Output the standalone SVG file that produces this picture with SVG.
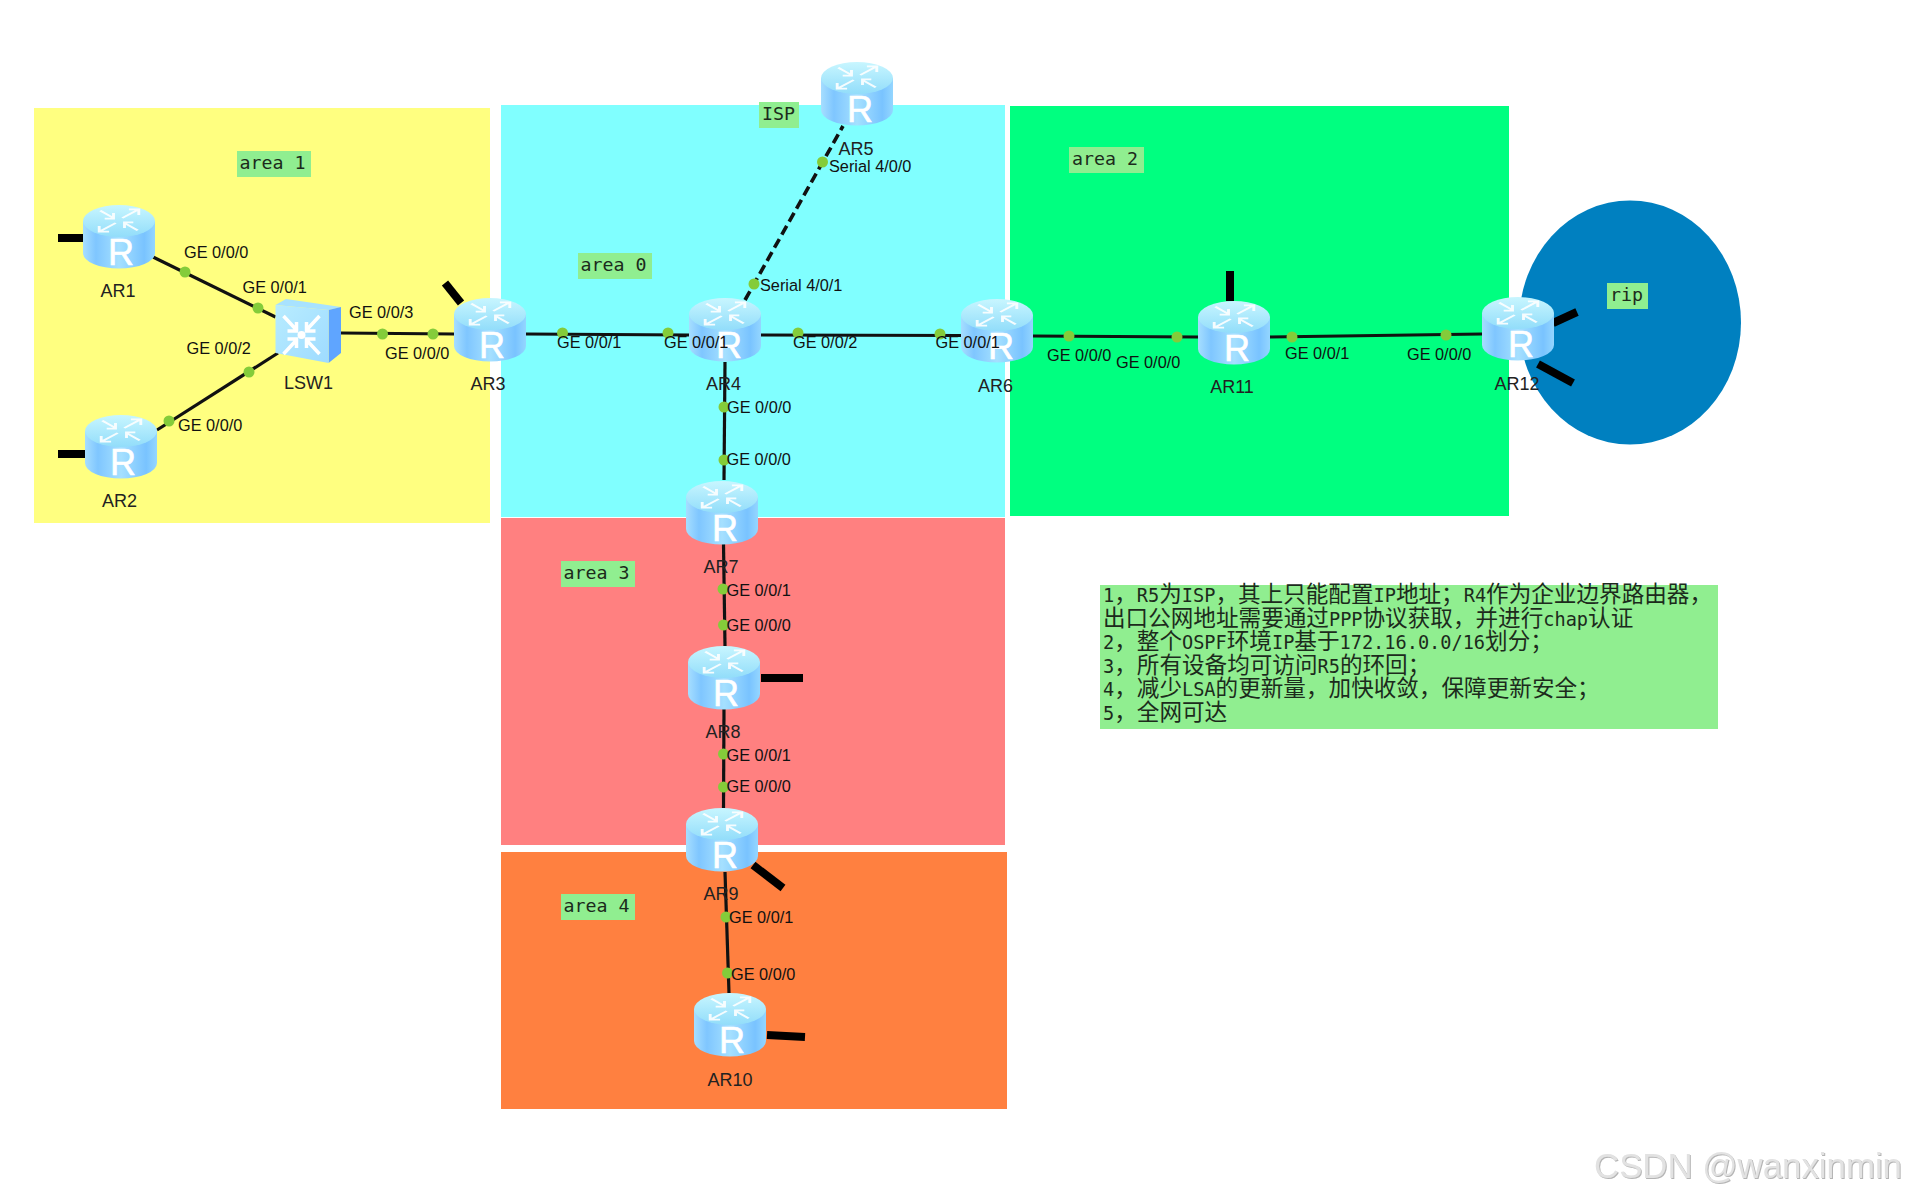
<svg xmlns="http://www.w3.org/2000/svg" xmlns:xlink="http://www.w3.org/1999/xlink" width="1906" height="1198" viewBox="0 0 1906 1198">
<style>
.pl{font:16.3px "Liberation Sans",Arial,sans-serif;fill:#111}
.nl{font:18px "Liberation Sans",Arial,sans-serif;fill:#222;text-anchor:middle}
.r{font:36px "Liberation Sans",Arial,sans-serif;fill:#fff;text-anchor:middle;stroke:#fff;stroke-width:.6}
.tb{fill:#90EE90}
.tt{font:18.3px "DejaVu Sans Mono",monospace;fill:#1c2b1c}
.note{font:22.6px "Noto Sans CJK SC","Noto Sans CJK TC",sans-serif;fill:#1c2b1c}
.m{font:18.6px "DejaVu Sans Mono",monospace}
.ln{stroke:#111;stroke-width:3.2;fill:none}
.ds{stroke:#111;stroke-width:3.6;stroke-dasharray:10 5;fill:none}
.st{stroke:#000;stroke-width:8;fill:none}
.port{fill:#84CC3A}
.ar{stroke:#fff;stroke-width:2.6;fill:none;opacity:.9}
.as{stroke:#fff;stroke-width:3.5;fill:none}
</style>
<defs>
<linearGradient id="rb" x1="0" x2="1" y1="0" y2="0"><stop offset="0" stop-color="#A6DEFF"/><stop offset=".18" stop-color="#7FC6FF"/><stop offset=".5" stop-color="#A5E0FF"/><stop offset=".85" stop-color="#79C3FF"/><stop offset="1" stop-color="#94D6FF"/></linearGradient>
<linearGradient id="rt" x1="0" x2="0" y1="0" y2="1"><stop offset="0" stop-color="#C8F6FF"/><stop offset="1" stop-color="#92DDFA"/></linearGradient>
<linearGradient id="sf" x1="0" x2="1" y1="0" y2="1"><stop offset="0" stop-color="#B8ECFF"/><stop offset="1" stop-color="#9EDBFF"/></linearGradient>
<g id="rarrows" class="ar"><g transform="translate(36,15.500) scale(1.1,.62)">
<path d="M3,-4L17,-17M9,-18H18V-9"/>
<path d="M-3,4L-17,17M-9,18H-18V9"/>
<path d="M-17,-16L-5,-4M-5,-12V-3H-13"/>
<path d="M17,16L5,4M5,12V3H13"/>
</g></g>
<g id="router">
<path d="M0,16V48A36,15.500 0 0 0 72,48V16Z" fill="url(#rb)"/>
<ellipse cx="36" cy="16" rx="36" ry="16" fill="url(#rt)"/>
<use href="#rarrows"/>
</g>
<filter id="wm" x="-5%" y="-20%" width="110%" height="140%"><feDropShadow dx="1" dy="1" stdDeviation=".6" flood-color="#b4b4b4"/></filter>
</defs>

<g id="areas">
<rect x="34" y="108" width="456" height="415" fill="#FFFF80"/>
<rect x="501" y="105" width="504" height="412" fill="#80FFFF"/>
<rect x="1010" y="106" width="499" height="410" fill="#00FF80"/>
<rect x="501" y="518" width="504" height="327" fill="#FF8080"/>
<rect x="501" y="852" width="506" height="257" fill="#FF8040"/>
<ellipse cx="1630" cy="322.500" rx="111" ry="122" fill="#0080C0"/>
</g>

<g id="connectors">
<path class="ln" d="M153,257L275.500,317"/>
<path class="ln" d="M157,430L278,353"/>
<path class="ln" d="M341,333L454,334"/>
<path class="ln" d="M526,334L689,335"/>
<path class="ln" d="M761,335L961,335.500"/>
<path class="ln" d="M1033,336L1198,337"/>
<path class="ln" d="M1270,337L1482,334"/>
<path class="ds" d="M745,300L843,126"/>
<path class="ln" d="M725,362L724,480"/>
<path class="ln" d="M723.500,544L725,646"/>
<path class="ln" d="M724,709L723.500,808"/>
<path class="ln" d="M725,872L729,993"/>
<path class="st" d="M58,238H83"/>
<path class="st" d="M58,454H85"/>
<path class="st" d="M445,283L461,303"/>
<path class="st" d="M1230,271V301"/>
<path class="st" d="M1553,323L1577,312"/>
<path class="st" d="M1538,364L1573,383"/>
<path class="st" d="M761,678H803"/>
<path class="st" d="M753,865L783,888"/>
<path class="st" d="M767,1035L805,1037"/>
<g class="ports">
<ellipse class="port" cx="185" cy="272" rx="5.500" ry="5.500"/>
<ellipse class="port" cx="258" cy="308" rx="5.500" ry="5.500"/>
<ellipse class="port" cx="169" cy="421" rx="5.500" ry="5.500"/>
<ellipse class="port" cx="249" cy="372" rx="5.500" ry="5.500"/>
<ellipse class="port" cx="382.500" cy="334" rx="5.500" ry="5.500"/>
<ellipse class="port" cx="433" cy="334" rx="5.500" ry="5.500"/>
<ellipse class="port" cx="562.500" cy="333" rx="5.500" ry="5.500"/>
<ellipse class="port" cx="668" cy="333" rx="5.500" ry="5.500"/>
<ellipse class="port" cx="798" cy="333" rx="5.500" ry="5.500"/>
<ellipse class="port" cx="940" cy="334" rx="5.500" ry="5.500"/>
<ellipse class="port" cx="1069" cy="336" rx="5.500" ry="5.500"/>
<ellipse class="port" cx="1177" cy="337" rx="5.500" ry="5.500"/>
<ellipse class="port" cx="1292" cy="337" rx="5.500" ry="5.500"/>
<ellipse class="port" cx="1446" cy="335" rx="5.500" ry="5.500"/>
<ellipse class="port" cx="822.500" cy="162" rx="5.500" ry="5.500"/>
<ellipse class="port" cx="754" cy="284" rx="5.500" ry="5.500"/>
<ellipse class="port" cx="724" cy="407" rx="5.500" ry="5.500"/>
<ellipse class="port" cx="724" cy="460" rx="5.500" ry="5.500"/>
<ellipse class="port" cx="723" cy="589" rx="5.500" ry="5.500"/>
<ellipse class="port" cx="723.500" cy="625" rx="5.500" ry="5.500"/>
<ellipse class="port" cx="723.500" cy="754" rx="5.500" ry="5.500"/>
<ellipse class="port" cx="723.500" cy="787" rx="5.500" ry="5.500"/>
<ellipse class="port" cx="726" cy="917" rx="5.500" ry="5.500"/>
<ellipse class="port" cx="727.500" cy="973" rx="5.500" ry="5.500"/>
</g>
</g>

<g id="AR1"><use href="#router" x="83" y="205"/><text class="r" x="121" y="265">R</text><text class="nl" x="118" y="297">AR1</text></g>
<g id="AR2"><use href="#router" x="85" y="415"/><text class="r" x="123" y="475">R</text><text class="nl" x="119.500" y="507">AR2</text></g>
<g id="LSW1">
<path d="M275.500,305L286,299L341,307L328.600,310Z" fill="#A8E2FF"/>
<path d="M328.600,310L341,307V353L328.600,363Z" fill="#5FA5FF"/>
<path d="M275.500,305L328.600,310V363L275.500,353Z" fill="url(#sf)"/>
<g class="as" transform="translate(301.500,335)">
<path d="M-5,-5L-18,-19M-18,-11V-20H-9" transform="rotate(180 -11.500 -12)"/>
<path d="M5,-5L18,-19M18,-11V-20H9" transform="rotate(180 11.500 -12)"/>
<path d="M-5,5L-18,19M-18,11V20H-9" transform="rotate(180 -11.500 12)"/>
<path d="M5,5L18,19M18,11V20H9" transform="rotate(180 11.500 12)"/>
<circle r="4" fill="#fff" stroke="none"/>
</g>
<text class="nl" x="308.500" y="389">LSW1</text></g>
<g id="AR3"><use href="#router" x="454" y="298"/><text class="r" x="492" y="358">R</text><text class="nl" x="488" y="390">AR3</text></g>
<g id="AR4"><use href="#router" x="689" y="298"/><text class="r" x="729" y="358">R</text><text class="nl" x="723.500" y="390">AR4</text></g>
<g id="AR5"><use href="#router" x="821" y="62"/><text class="r" x="860" y="122">R</text><text class="nl" x="856" y="155">AR5</text></g>
<g id="AR6"><use href="#router" x="961" y="299"/><text class="r" x="1001" y="359">R</text><text class="nl" x="995.500" y="392">AR6</text></g>
<g id="AR11"><use href="#router" x="1198" y="301"/><text class="r" x="1237" y="361">R</text><text class="nl" x="1232" y="393">AR11</text></g>
<g id="AR12"><use href="#router" x="1482" y="297"/><text class="r" x="1521" y="357">R</text><text class="nl" x="1517" y="390">AR12</text></g>
<g id="AR7"><use href="#router" x="686" y="481"/><text class="r" x="725" y="541">R</text><text class="nl" x="721" y="573">AR7</text></g>
<g id="AR8"><use href="#router" x="688" y="646"/><text class="r" x="726" y="706">R</text><text class="nl" x="723" y="738">AR8</text></g>
<g id="AR9"><use href="#router" x="686" y="808"/><text class="r" x="725" y="868">R</text><text class="nl" x="721" y="900">AR9</text></g>
<g id="AR10"><use href="#router" x="694" y="993"/><text class="r" x="732" y="1053">R</text><text class="nl" x="730" y="1086">AR10</text></g>

<g id="port-labels">
<text class="pl" x="184" y="258">GE 0/0/0</text>
<text class="pl" x="242.500" y="293">GE 0/0/1</text>
<text class="pl" x="349" y="318">GE 0/0/3</text>
<text class="pl" x="385" y="359">GE 0/0/0</text>
<text class="pl" x="186.500" y="354">GE 0/0/2</text>
<text class="pl" x="178" y="431">GE 0/0/0</text>
<text class="pl" x="557" y="348">GE 0/0/1</text>
<text class="pl" x="664" y="348">GE 0/0/1</text>
<text class="pl" x="793" y="348">GE 0/0/2</text>
<text class="pl" x="935.500" y="348">GE 0/0/1</text>
<text class="pl" x="1047" y="361">GE 0/0/0</text>
<text class="pl" x="1116" y="368">GE 0/0/0</text>
<text class="pl" x="1285" y="359">GE 0/0/1</text>
<text class="pl" x="1407" y="360">GE 0/0/0</text>
<text class="pl" x="829" y="172">Serial 4/0/0</text>
<text class="pl" x="760" y="291">Serial 4/0/1</text>
<text class="pl" x="727" y="413">GE 0/0/0</text>
<text class="pl" x="726.500" y="465">GE 0/0/0</text>
<text class="pl" x="726.500" y="596">GE 0/0/1</text>
<text class="pl" x="726.500" y="631">GE 0/0/0</text>
<text class="pl" x="726.500" y="761">GE 0/0/1</text>
<text class="pl" x="726.500" y="792">GE 0/0/0</text>
<text class="pl" x="729" y="923">GE 0/0/1</text>
<text class="pl" x="731" y="980">GE 0/0/0</text>
</g>

<g id="area-tags">
<g id="tag-area1"><rect class="tb" x="237" y="151" width="74" height="26"/><text class="tt" x="239.500" y="169">area 1</text></g>
<g id="tag-area0"><rect class="tb" x="578" y="253" width="74" height="26"/><text class="tt" x="580.500" y="271">area 0</text></g>
<g id="tag-area2"><rect class="tb" x="1069" y="147" width="75" height="26"/><text class="tt" x="1072" y="165">area 2</text></g>
<g id="tag-area3"><rect class="tb" x="561" y="561" width="74" height="26"/><text class="tt" x="563.500" y="579">area 3</text></g>
<g id="tag-area4"><rect class="tb" x="561" y="894" width="74" height="26"/><text class="tt" x="563.500" y="912">area 4</text></g>
<g id="tag-isp"><rect class="tb" x="759" y="102" width="40" height="26"/><text class="tt" x="762" y="120">ISP</text></g>
<g id="tag-rip"><rect class="tb" x="1607" y="283" width="41" height="26"/><text class="tt" x="1610" y="301">rip</text></g>
</g>

<g id="note">
<rect class="tb" x="1100" y="585" width="618" height="144"/>
<text class="note" x="1103" y="602">
<tspan class="m">1</tspan>，<tspan class="m">R5</tspan>为<tspan class="m">ISP</tspan>，其上只能配置<tspan class="m">IP</tspan>地址；<tspan class="m">R4</tspan>作为企业边界路由器，</text>
<text class="note" x="1103" y="625.500">出口公网地址需要通过<tspan class="m">PPP</tspan>协议获取，并进行<tspan class="m">chap</tspan>认证</text>
<text class="note" x="1103" y="649"><tspan class="m">2</tspan>，整个<tspan class="m">OSPF</tspan>环境<tspan class="m">IP</tspan>基于<tspan class="m">172.16.0.0/16</tspan>划分；</text>
<text class="note" x="1103" y="672.500"><tspan class="m">3</tspan>，所有设备均可访问<tspan class="m">R5</tspan>的环回；</text>
<text class="note" x="1103" y="696"><tspan class="m">4</tspan>，减少<tspan class="m">LSA</tspan>的更新量，加快收敛，保障更新安全；</text>
<text class="note" x="1103" y="719.500"><tspan class="m">5</tspan>，全网可达</text>
</g>

<text id="watermark" x="1594" y="1178" font-family="Liberation Sans,Arial,sans-serif" font-size="34.800" fill="#e2e2e2" filter="url(#wm)">CSDN @wanxinmin</text>
</svg>
